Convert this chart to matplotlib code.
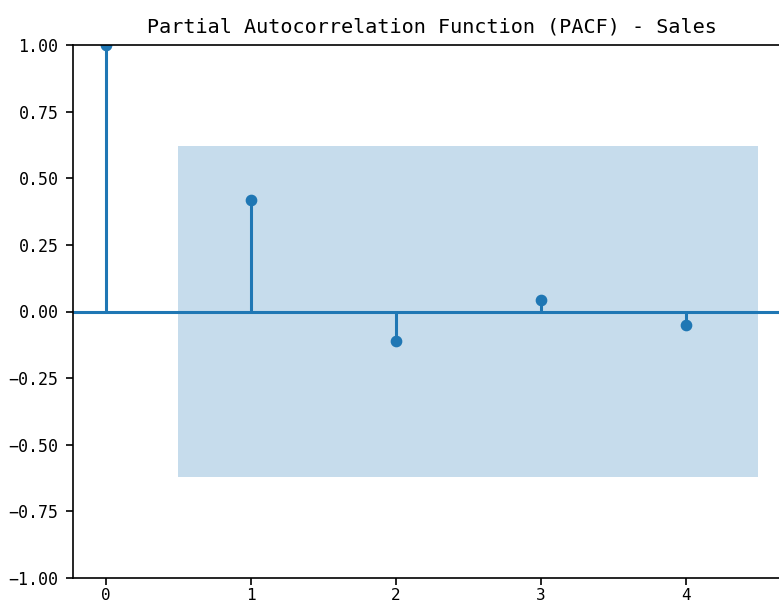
import numpy as np
import matplotlib
matplotlib.use("Agg")
import matplotlib.pyplot as plt

# partial autocorrelation per lag
lags = [0, 1, 2, 3, 4]
pacf_vals = [1.0, 0.418, -0.111, 0.043, -0.051]
n_obs = 10
title = "Partial Autocorrelation Function (PACF) - Sales"

plt.rcParams['font.family'] = ['DejaVu Sans Mono']
plt.rcParams['axes.unicode_minus'] = True

fig = plt.figure(figsize=(7.79, 6.07), dpi=100)
ax = fig.add_axes([73 / 779, 29 / 607, 718 / 779, 533 / 607])

x = np.array(lags, dtype=float)
y = np.array(pacf_vals)

ax.vlines(x, [0], y, colors='C0', linewidth=2.2)
ax.axhline(0, color='C0', linewidth=2.2)
ax.margins(0.05)
ax.plot(x, y, marker='o', markersize=7.4, linestyle='None', color='C0')
ax.set_title(title, fontsize=14.5, pad=8.9)
ax.set_ylim(-1, 1)

# 95% band, lag 0 skipped
conf = 1.96 / np.sqrt(n_obs)
band_x = x[1:].copy()
band_x[0] -= 0.5
band_x[-1] += 0.5
ax.fill_between(band_x, -conf * np.ones_like(band_x), conf * np.ones_like(band_x),
                color='C0', alpha=0.25, linewidth=0)

ax.set_xticks(lags)
ax.set_yticks(np.linspace(-1, 1, 9))
ax.tick_params(labelsize=12, length=5.2, width=1.2)
ax.tick_params(axis='x', pad=2.0, labelsize=11.5)
ax.tick_params(axis='y', pad=5.2)
for s in ax.spines.values():
    s.set_linewidth(1.2)

fig.savefig('out.png', dpi=100)
